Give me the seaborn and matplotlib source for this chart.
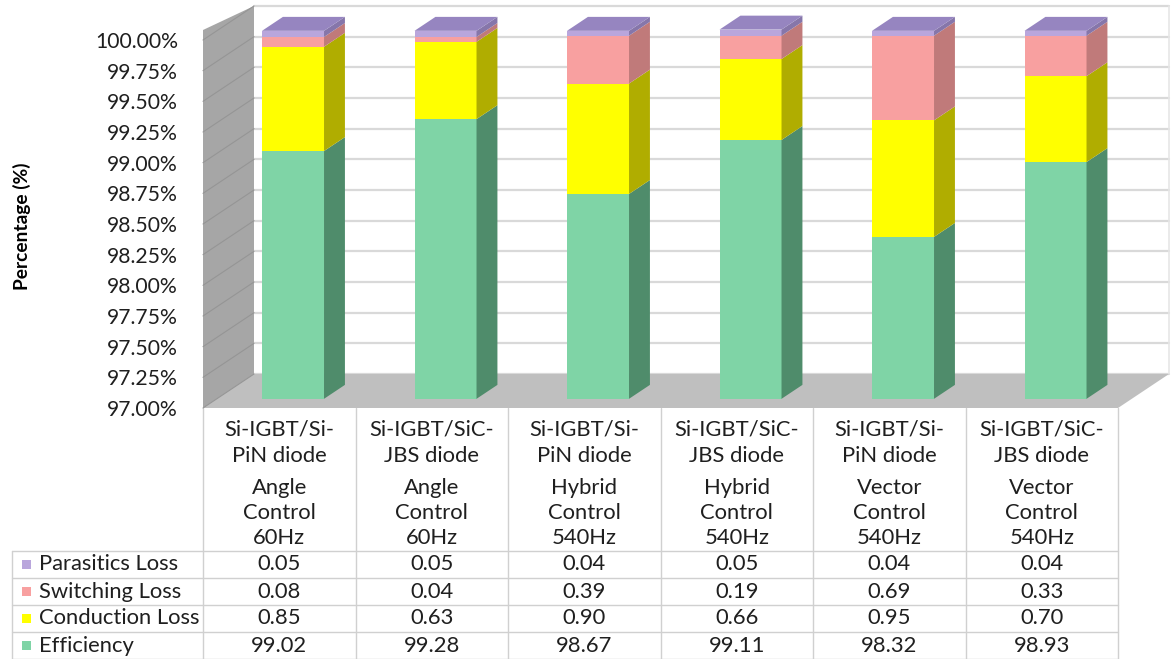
import matplotlib
matplotlib.use("Agg")
import matplotlib.pyplot as plt
from matplotlib.patches import Polygon, Rectangle
import seaborn as sns
import pandas as pd

# ---- data -------------------------------------------------------------
devices = ["Si-IGBT/Si-\nPiN diode", "Si-IGBT/SiC-\nJBS diode",
           "Si-IGBT/Si-\nPiN diode", "Si-IGBT/SiC-\nJBS diode",
           "Si-IGBT/Si-\nPiN diode", "Si-IGBT/SiC-\nJBS diode"]
controls = ["Angle\nControl\n60Hz", "Angle\nControl\n60Hz",
            "Hybrid\nControl\n540Hz", "Hybrid\nControl\n540Hz",
            "Vector\nControl\n540Hz", "Vector\nControl\n540Hz"]

efficiency = [99.02, 99.28, 98.67, 99.11, 98.32, 98.93]
conduction_loss = [0.85, 0.63, 0.90, 0.66, 0.95, 0.70]
switching_loss = [0.08, 0.04, 0.39, 0.19, 0.69, 0.33]
parasitics_loss = [0.05, 0.05, 0.04, 0.05, 0.04, 0.04]

series_names = ["Efficiency", "Conduction Loss", "Switching Loss", "Parasitics Loss"]
y_ticks = [97.00, 97.25, 97.50, 97.75, 98.00, 98.25, 98.50,
           98.75, 99.00, 99.25, 99.50, 99.75, 100.00]
y_min, y_max = 97.0, 100.0

# ---- styling ----------------------------------------------------------
front_colors = {"Efficiency": "#7fd4a6", "Conduction Loss": "#ffff00",
                "Switching Loss": "#f8a0a0", "Parasitics Loss": "#b9a6dc"}
side_colors = {"Efficiency": "#4f8c6b", "Conduction Loss": "#b0ad00",
               "Switching Loss": "#c07a7a", "Parasitics Loss": "#8676aa"}
top_color = "#9685c0"
text_color = "#1f1f1f"
grid_color = "#d9d9d9"
table_line = "#d0d0d0"

sns.set_style("white")
plt.rcParams["font.family"] = ["Lato", "DejaVu Sans"]
FS = 15.8
TICK_FS = 15.2

W, H = 1175, 659
fig = plt.figure(figsize=(W / 100, H / 100), dpi=100)


def px_axes(left, top, right, bottom):
    return fig.add_axes([left / W, 1 - bottom / H, (right - left) / W, (bottom - top) / H])


# front plane of the 3-D box (pixels) and full depth offset
FL, FT, FR, FB = 203, 40, 1118, 408
DX, DY = 51, -34
BAR_DEPTH_POS = 0.27   # bars sit this far into the box
BAR_DEPTH = 0.41       # bar thickness as a fraction of box depth
n = len(devices)
col_w = (FR - FL) / n

canvas = px_axes(0, 0, W, H)
canvas.set_xlim(0, W)
canvas.set_ylim(H, 0)
canvas.axis("off")
canvas.set_zorder(0)

# front plane axes: holds y ticks, walls, floor, gridlines
fax = px_axes(FL, FT, FR, FB)
fax.set_xlim(-0.5, n - 0.5)
fax.set_ylim(y_min, y_max)
fax.patch.set_visible(False)
fax.set_zorder(1)
for s in fax.spines.values():
    s.set_visible(False)
ux = col_w                        # pixels per category
uy = (FB - FT) / (y_max - y_min)  # pixels per percent
ddx, ddy = DX / ux, -DY / uy

fax.set_xticks([])
fax.set_yticks(y_ticks)
fax.set_yticklabels([f"{v:.2f}%" for v in y_ticks])
fax.tick_params(axis="y", direction="out", length=9.5, width=0.9,
                color="#a6a6a6", pad=8.5, labelsize=TICK_FS, labelcolor=text_color)

x0, x1 = -0.5, n - 0.5
# floor
fax.add_patch(Polygon([(x0, y_min), (x1, y_min), (x1 + ddx, y_min + ddy),
                       (x0 + ddx, y_min + ddy)], closed=True,
                      facecolor="#bfbfbf", edgecolor="none", clip_on=False, zorder=1))
# side wall
fax.add_patch(Polygon([(x0, y_min), (x0, y_max + 10 / uy), (x0 + ddx, y_max + ddy),
                       (x0 + ddx, y_min + ddy)], closed=True,
                      facecolor="#a6a6a6", edgecolor="none", clip_on=False, zorder=1))
# back wall gridlines and side-wall lines
for v in y_ticks:
    fax.plot([x0 + ddx, x1 + ddx], [v + ddy, v + ddy], color=grid_color,
             lw=1.6, clip_on=False, zorder=0.5)
    fax.plot([x0, x0 + ddx], [v, v + ddy], color="#959595", lw=0.8,
             clip_on=False, zorder=1.5)
fax.plot([x1 + ddx, x1 + ddx], [y_min + ddy, y_max + ddy], color="#e6e6e6",
         lw=1.2, clip_on=False, zorder=0.5)

# ---- bars -------------------------------------------------------------
configs = [d.replace("\n", "") + " " + c.replace("\n", " ") for d, c in zip(devices, controls)]
values = {"Efficiency": efficiency, "Conduction Loss": conduction_loss,
          "Switching Loss": switching_loss, "Parasitics Loss": parasitics_loss}
df = pd.DataFrame({"config": configs})
running = [0.0] * n
bottoms = {}
for name in series_names:
    bottoms[name] = list(running)
    running = [r + v for r, v in zip(running, values[name])]
    df[name] = running

# bar plane sits partway into the box; give it headroom above 100 %
bar_top = y_max + 0.3
bx, by = BAR_DEPTH_POS * DX, BAR_DEPTH_POS * DY
bax = px_axes(FL + bx, FT + by - (bar_top - y_max) * uy, FR + bx, FB + by)
bax.set_zorder(2)
bax.patch.set_visible(False)
bar_w = 62 / col_w
for name in reversed(series_names):
    sns.barplot(data=df, x="config", y=name, order=configs, color=front_colors[name],
                saturation=1, width=bar_w, errorbar=None, linewidth=0, ax=bax)
bax.set_xlim(-0.5, n - 0.5)
bax.set_ylim(y_min, bar_top)
bax.axis("off")

sdx = BAR_DEPTH * DX / ux
sdy = -BAR_DEPTH * DY / uy
for i in range(n):
    xr = i + bar_w / 2
    xl = i - bar_w / 2
    for name in series_names:
        lo = max(bottoms[name][i], y_min)
        hi = df[name][i]
        if hi <= y_min:
            continue
        bax.add_patch(Polygon([(xr, lo), (xr + sdx, lo + sdy), (xr + sdx, hi + sdy), (xr, hi)],
                              closed=True, facecolor=side_colors[name], edgecolor="none",
                              clip_on=False))
    top = df[series_names[-1]][i]
    bax.add_patch(Polygon([(xl, top), (xr, top), (xr + sdx, top + sdy), (xl + sdx, top + sdy)],
                          closed=True, facecolor=top_color, edgecolor="none", clip_on=False))

# ---- y label ------------------------------------------------------------
fig.text(22 / W, 1 - 226 / H, "Percentage (%)", rotation=90, ha="center", va="center",
         fontsize=13.8, fontweight="bold", color="black")

# ---- data table -----------------------------------------------------------
TL = 12
row_top = 551
row_h = 27
rows = list(reversed(series_names))
table_bottom = row_top + row_h * len(rows)
for k in range(n + 1):
    x = FL + k * col_w
    canvas.plot([x, x], [FB, table_bottom], color=table_line, lw=1.0)
for r in range(len(rows) + 1):
    y = row_top + r * row_h
    canvas.plot([TL, FR], [y, y], color=table_line, lw=1.0)
canvas.plot([TL, TL], [row_top, table_bottom], color=table_line, lw=1.0)

header_y = [430, 456, 488, 513, 538]
for i in range(n):
    cx = FL + (i + 0.5) * col_w
    lines = devices[i].split("\n") + controls[i].split("\n")
    for ln, yy in zip(lines, header_y):
        canvas.text(cx, yy, ln, ha="center", va="center", fontsize=FS, color=text_color)

for r, name in enumerate(rows):
    cy = row_top + (r + 0.5) * row_h
    canvas.add_patch(Rectangle((22, cy - 4.5), 9, 9, facecolor=front_colors[name],
                               edgecolor="none"))
    canvas.text(39, cy, name, ha="left", va="center", fontsize=FS, color=text_color)
    for i in range(n):
        cx = FL + (i + 0.5) * col_w
        canvas.text(cx, cy, f"{values[name][i]:.2f}", ha="center", va="center",
                    fontsize=FS, color=text_color)

fig.savefig("out.png", dpi=100)
